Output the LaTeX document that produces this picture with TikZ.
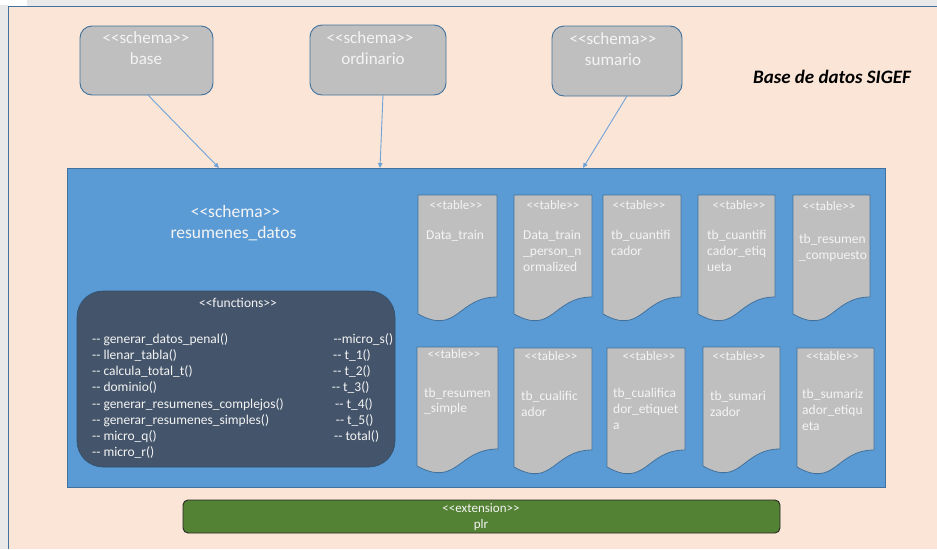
\documentclass[tikz,border=0pt]{standalone}
\usepackage{fontspec}
\setmainfont{Carlito}[Ligatures=TeXOff]
\usetikzlibrary{arrows.meta}
\definecolor{peach}{HTML}{FBE5D6}
\definecolor{outergray}{HTML}{E9E9E9}
\definecolor{framecol}{HTML}{41719C}
\definecolor{bluefill}{HTML}{5B9BD5}
\definecolor{arrowcol}{HTML}{6FA3D8}
\definecolor{darkfill}{HTML}{44546A}
\definecolor{grayfill}{HTML}{BFBFBF}
\definecolor{greenfill}{HTML}{548235}
\definecolor{lighttext}{HTML}{F4F4F4}

% gray document-style table symbol with wavy bottom edge
\newcommand\docshape[3]{%
  \draw[tablebox] (#1,#3) -- (#2,#3) -- (#2,#3+102)
    .. controls ({(#1+#2)/2},#3+102) and ({(#1+#2)/2},#3+141) .. (#1,#3+119) -- cycle;}

\begin{document}
\begin{tikzpicture}[x=1pt,y=-1pt,
  box/.style={inner sep=0pt,outer sep=0pt,anchor=north west},
  schemabox/.style={box,fill=grayfill,draw=framecol,line width=0.9pt,rounded corners=12pt},
  mainbox/.style={box,fill=bluefill,draw=framecol,line width=0.9pt},
  funcbox/.style={box,fill=darkfill,draw=framecol!70!black,line width=0.6pt,rounded corners=26pt},
  extbox/.style={box,fill=greenfill,draw=black!85,line width=0.9pt,rounded corners=5pt},
  tablebox/.style={fill=grayfill,draw=framecol,line width=0.8pt},
  lbl/.style={inner sep=0pt,text=lighttext,text height=0.9em,text depth=0.1em},
  schemalbl/.style={lbl,font=\fontsize{17}{17}\selectfont},
  titlelbl/.style={lbl,font=\fontsize{17.5}{17.5}\selectfont},
  funclbl/.style={lbl,anchor=west,font=\fontsize{13.5}{13.5}\selectfont},
  functag/.style={lbl,font=\fontsize{13.5}{13.5}\selectfont},
  tbltag/.style={lbl,font=\fontsize{13}{13}\selectfont},
  tblname/.style={lbl,anchor=west,font=\fontsize{13.5}{13.5}\selectfont},
  extlbl/.style={lbl,font=\fontsize{13}{13}\selectfont},
  link/.style={draw=arrowcol,line width=0.9pt,-{Triangle[length=5pt,width=4.5pt]}}
]
\useasboundingbox (0,0) rectangle (937,549);

% page background and frame
\fill[white] (0,0) rectangle (937,549);
\fill[outergray] (27,0) rectangle (937,6);
\fill[outergray] (0,5) rectangle (8,549);
\fill[peach] (8,6) rectangle (937,549);
\draw[framecol,line width=1pt] (8,549) -- (8,6) -- (937,6);

% source schemas
\node[schemabox,minimum width=133pt,minimum height=69pt] (base) at (80,26) {};
\node[schemabox,minimum width=136pt,minimum height=70pt] (ordinario) at (310,25) {};
\node[schemabox,minimum width=130pt,minimum height=70pt] (sumario) at (552,26) {};
\node[schemalbl] (baseS) at (146,39) {<<schema>>};
\node[schemalbl] (baseN) at (146,60) {base};
\node[schemalbl] (ordS) at (370,39) {<<schema>>};
\node[schemalbl] (ordN) at (373,60) {ordinario};
\node[schemalbl] (sumS) at (613,40) {<<schema>>};
\node[schemalbl] (sumN) at (613,61) {sumario};

\node[inner sep=0pt,font=\fontsize{19}{19}\selectfont\bfseries\itshape] (sigef) at (832,77) {Base de datos SIGEF};

% main schema
\node[mainbox,minimum width=818pt,minimum height=319pt] (main) at (67,168) {};
\node[titlelbl] (mainS) at (235.5,213) {<<schema>>};
\node[titlelbl] (mainN) at (233.5,234) {resumenes\_datos};

% links from the source schemas
\coordinate (inA) at (219,168);
\coordinate (inB) at (380,168);
\coordinate (inC) at (583,168);
\draw[link] ([xshift=1.5pt]base.south) -- (inA);
\draw[link] ([xshift=5pt]ordinario.south) -- (inB);
\draw[link] ([xshift=10pt]sumario.south) -- (inC);

% functions block
\node[funcbox,minimum width=318pt,minimum height=176pt] (funcs) at (77,291) {};
\node[functag] (funcsT) at (238,303) {<<functions>>};
\foreach \f [count=\i] in {-- generar\_datos\_penal(),-- llenar\_tabla(),-- calcula\_total\_t(),-- dominio(),-- generar\_resumenes\_complejos(),-- generar\_resumenes\_simples(),-- micro\_q(),-- micro\_r()}
  \node[funclbl] (fl\i) at (92,{339.3+16.2*(\i-1)}) {\f};
\node[funclbl] (fr1) at (333.3,339.3) {--micro\_s()};
\node[funclbl] (fr2) at (333,355.5) {-- t\_1()};
\node[funclbl] (fr3) at (333,371.7) {-- t\_2()};
\node[funclbl] (fr4) at (331.7,387.9) {-- t\_3()};
\node[funclbl] (fr5) at (335,404.1) {-- t\_4()};
\node[funclbl] (fr6) at (335.7,420.3) {-- t\_5()};
\node[funclbl] (fr7) at (334,436.5) {-- total()};

% tables, first row
\docshape{418}{497}{195}
\docshape{514}{592}{195}
\docshape{603}{681}{195}
\docshape{698}{775}{195}
\docshape{793}{870}{195}
\node[tbltag] (t1T) at (456,205) {<<table>>};
\node[tbltag] (t2T) at (553,205) {<<table>>};
\node[tbltag] (t3T) at (639,205) {<<table>>};
\node[tbltag] (t4T) at (739,205) {<<table>>};
\node[tbltag] (t5T) at (829,206) {<<table>>};
\node[tblname] (t1a) at (426,235) {Data\_train};
\foreach \t [count=\i] in {Data\_train,\_person\_n,ormalized}
  \node[tblname] (t2l\i) at (523,{235+16*(\i-1)}) {\t};
\foreach \t [count=\i] in {tb\_cuantifi,cador}
  \node[tblname] (t3l\i) at (611,{235+16*(\i-1)}) {\t};
\foreach \t [count=\i] in {tb\_cuantifi,cador\_etiq,ueta}
  \node[tblname] (t4l\i) at (707,{235+16*(\i-1)}) {\t};
\foreach \t [count=\i] in {tb\_resumen,\_compuesto}
  \node[tblname] (t5l\i) at (799,{239+16.5*(\i-1)}) {\t};

% tables, second row
\docshape{417}{498}{347}
\docshape{514}{592}{348}
\docshape{607}{685}{348}
\docshape{703}{780}{347}
\docshape{797}{874}{348}
\node[tbltag] (t6T) at (454,354) {<<table>>};
\node[tbltag] (t7T) at (551,356) {<<table>>};
\node[tbltag] (t8T) at (649,356) {<<table>>};
\node[tbltag] (t9T) at (739,356) {<<table>>};
\node[tbltag] (t10T) at (832.5,356) {<<table>>};
\foreach \t [count=\i] in {tb\_resumen,\_simple}
  \node[tblname] (t6l\i) at (424,{393+15.5*(\i-1)}) {\t};
\foreach \t [count=\i] in {tb\_cualific,ador}
  \node[tblname] (t7l\i) at (521,{396+16*(\i-1)}) {\t};
\foreach \t [count=\i] in {tb\_cualifica,dor\_etiquet,a}
  \node[tblname] (t8l\i) at (613,{393+16*(\i-1)}) {\t};
\foreach \t [count=\i] in {tb\_sumari,zador}
  \node[tblname] (t9l\i) at (710,{396+16*(\i-1)}) {\t};
\foreach \t [count=\i] in {tb\_sumariz,ador\_etiqu,eta}
  \node[tblname] (t10l\i) at (802,{394+16*(\i-1)}) {\t};

% extension bar
\node[extbox,minimum width=597pt,minimum height=33pt] (ext) at (183,500) {};
\node[extlbl] (extT) at (481,508.5) {<<extension>>};
\node[extlbl] (extN) at (481,524) {plr};
\end{tikzpicture}
\end{document}
